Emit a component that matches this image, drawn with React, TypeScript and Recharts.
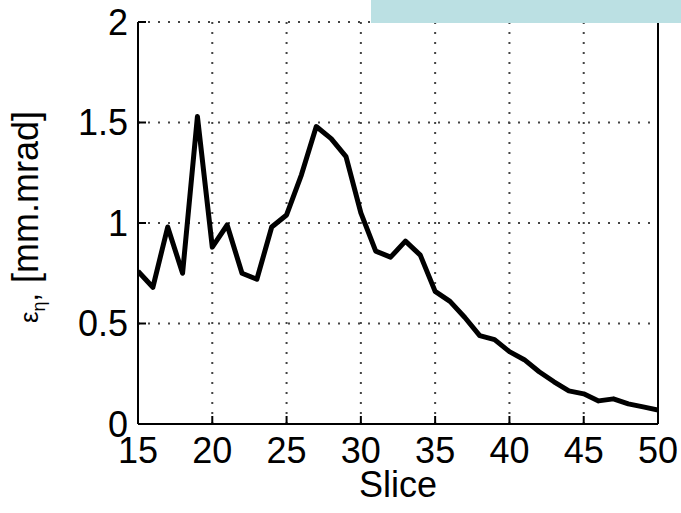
import React from "react";
import { LineChart, Line, XAxis, YAxis, CartesianGrid } from "recharts";

const slices = [
  15, 16, 17, 18, 19, 20, 21, 22, 23, 24, 25, 26, 27, 28, 29, 30, 31, 32,
  33, 34, 35, 36, 37, 38, 39, 40, 41, 42, 43, 44, 45, 46, 47, 48, 49, 50,
];
const emittance = [
  0.76, 0.68, 0.98, 0.75, 1.53, 0.88, 0.99, 0.75, 0.72, 0.98, 1.04, 1.24,
  1.48, 1.42, 1.33, 1.05, 0.86, 0.83, 0.91, 0.84, 0.66, 0.61, 0.53, 0.44,
  0.42, 0.36, 0.32, 0.26, 0.21, 0.165, 0.15, 0.115, 0.125, 0.1, 0.085, 0.07,
];
const xTicks = [15, 20, 25, 30, 35, 40, 45, 50];
const yTicks = [0, 0.5, 1, 1.5, 2];

const data = slices.map((s, i) => ({ slice: s, eps: emittance[i] }));

const FONT = "'Liberation Sans', Arial, Helvetica, sans-serif";
const tickStyle = { fill: "#000", fontSize: 36, fontFamily: FONT };

const renderYLabel = (props: any) => {
  const vb = props.viewBox || { x: 0, y: 22, width: 138, height: 402 };
  const cx = 38;
  const cy = vb.y + vb.height / 2 - 6;
  return (
    <text
      x={cx}
      y={cy}
      transform={`rotate(-90 ${cx} ${cy})`}
      textAnchor="middle"
      fill="#000"
      fontFamily={FONT}
      fontSize={36}
    >
      <tspan fontSize={26}>ε</tspan>
      <tspan fontSize={18} dy={7}>η</tspan>
      <tspan fontSize={30} dy={-7}>,</tspan>
      <tspan> [mm.mrad]</tspan>
    </text>
  );
};

export default function App() {
  return (
    <div
      style={{
        position: "absolute",
        left: 0,
        top: 0,
        width: 681,
        height: 513,
        background: "#fff",
      }}
    >
      <LineChart
        width={681}
        height={513}
        data={data}
        margin={{ top: 22, right: 0, bottom: 0, left: 0 }}
      >
        <CartesianGrid
          stroke="#444"
          strokeWidth={2}
          strokeDasharray="2 8"
          verticalPoints={undefined}
        />
        <XAxis
          dataKey="slice"
          type="number"
          domain={[15, 50]}
          ticks={xTicks}
          interval={0}
          allowDataOverflow
          height={89}
          tickSize={-8}
          tickMargin={21}
          tick={tickStyle}
          axisLine={{ stroke: "#000", strokeWidth: 2 }}
          tickLine={{ stroke: "#000", strokeWidth: 2 }}
          label={{
            value: "Slice",
            position: "insideBottom",
            offset: 16,
            fill: "#000",
            fontSize: 36,
            fontFamily: FONT,
          }}
        />
        <XAxis
          xAxisId="top"
          orientation="top"
          type="number"
          domain={[15, 50]}
          ticks={xTicks}
          allowDataOverflow
          height={0}
          tickSize={-8}
          tick={false}
          axisLine={{ stroke: "#000", strokeWidth: 2 }}
          tickLine={{ stroke: "#000", strokeWidth: 2 }}
        />
        <YAxis
          type="number"
          domain={[0, 2]}
          ticks={yTicks}
          interval={0}
          allowDataOverflow
          width={138}
          tickSize={-8}
          tickMargin={18}
          tick={tickStyle}
          axisLine={{ stroke: "#000", strokeWidth: 2 }}
          tickLine={{ stroke: "#000", strokeWidth: 2 }}
          label={renderYLabel}
        />
        <YAxis
          yAxisId="right"
          orientation="right"
          type="number"
          domain={[0, 2]}
          ticks={yTicks}
          allowDataOverflow
          width={23}
          tickSize={-8}
          tick={false}
          axisLine={{ stroke: "#000", strokeWidth: 2 }}
          tickLine={{ stroke: "#000", strokeWidth: 2 }}
        />
        <Line
          type="linear"
          dataKey="eps"
          stroke="#000"
          strokeWidth={5}
          strokeLinejoin="round"
          dot={false}
          isAnimationActive={false}
        />
      </LineChart>
      <div
        style={{
          position: "absolute",
          left: 371,
          top: 0,
          width: 310,
          height: 23,
          background: "#BBE0E3",
        }}
      />
    </div>
  );
}
